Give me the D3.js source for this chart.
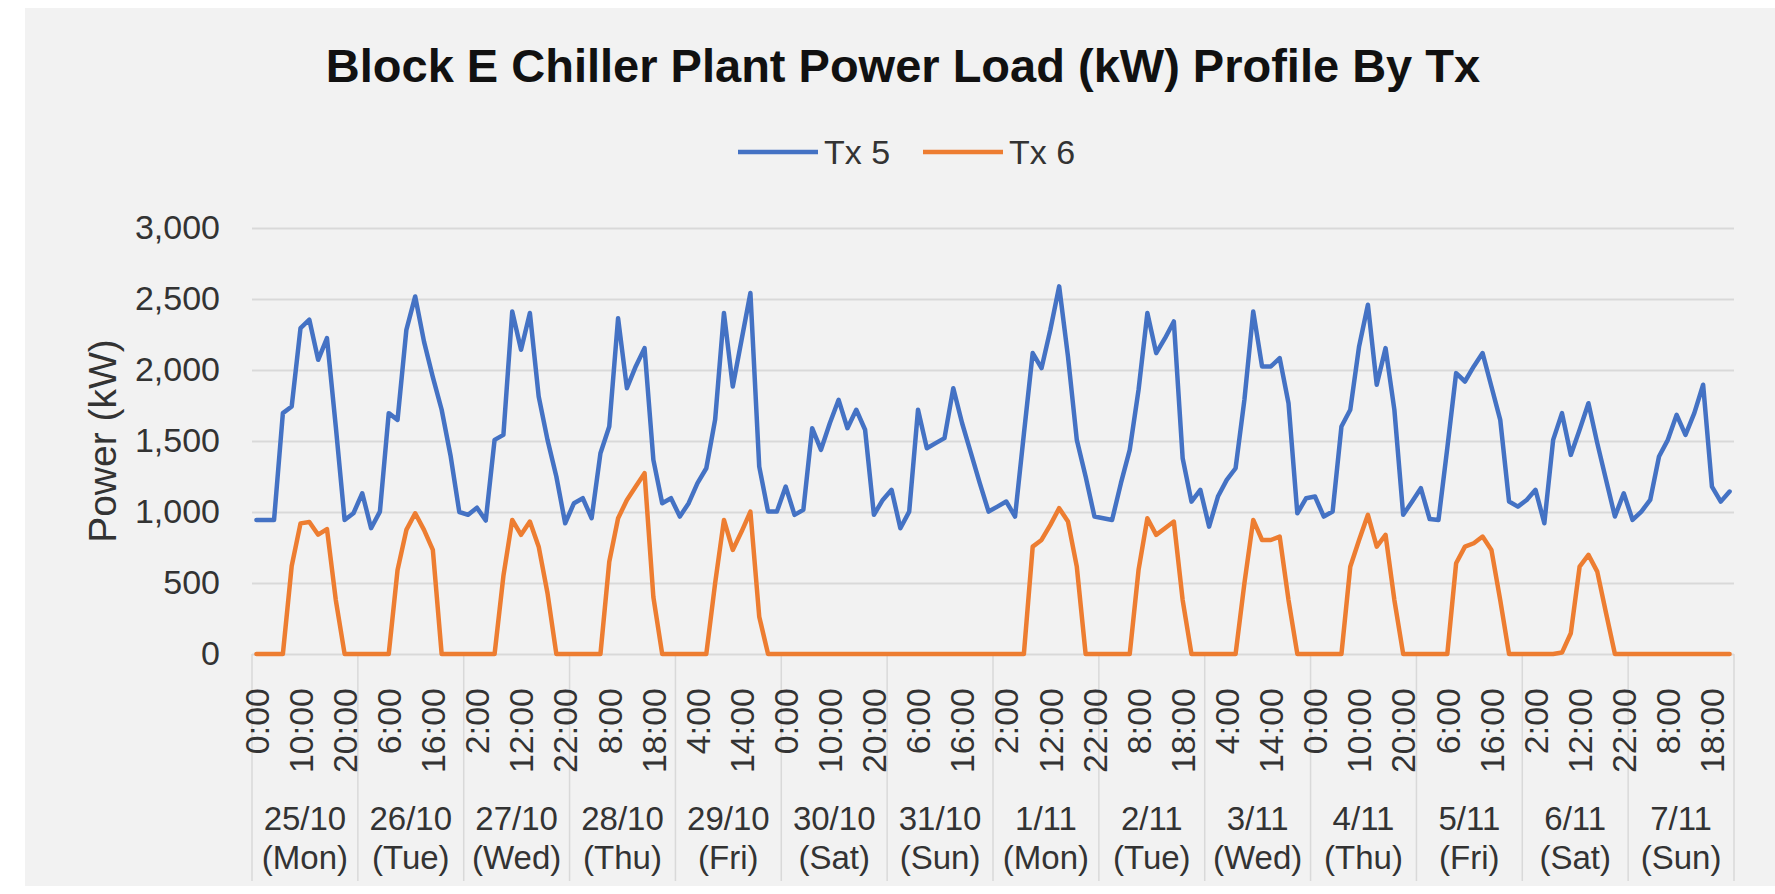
<!DOCTYPE html>
<html>
<head>
<meta charset="utf-8">
<script src="https://cdn.jsdelivr.net/npm/d3@7/dist/d3.min.js"></script>
<style>
body { margin: 0; background: #ffffff; }
svg { display: block; font-family: "Liberation Sans", Arial, sans-serif; }
</style>
</head>
<body>
<svg id="chart"></svg>
<script>
// one label per day (two lines) and the 2-hourly slots of a day
var dates = ["25/10", "26/10", "27/10", "28/10", "29/10", "30/10", "31/10",
             "1/11", "2/11", "3/11", "4/11", "5/11", "6/11", "7/11"];
var weekdays = ["(Mon)", "(Tue)", "(Wed)", "(Thu)", "(Fri)", "(Sat)", "(Sun)",
                "(Mon)", "(Tue)", "(Wed)", "(Thu)", "(Fri)", "(Sat)", "(Sun)"];
var hours = ["0:00", "2:00", "4:00", "6:00", "8:00", "10:00",
             "12:00", "14:00", "16:00", "18:00", "20:00", "22:00"];

// Tx 5, kW, 12 readings per day
var tx5 = [
  944, 944, 944, 1696, 1743, 2295, 2354, 2072, 2224, 1600, 944, 991,
  1132, 886, 1003, 1696, 1649, 2283, 2518, 2200, 1950, 1720, 1400, 1000,
  980, 1030, 940, 1508, 1543, 2412, 2142, 2401, 1813, 1508, 1250, 921,
  1062, 1097, 956, 1414, 1602, 2365, 1872, 2025, 2154, 1367, 1062, 1097,
  968, 1062, 1203, 1308, 1650, 2401, 1884, 2213, 2542, 1320, 1003, 1003,
  1179, 980, 1015, 1590, 1438, 1625, 1790, 1590, 1720, 1579, 980, 1085,
  1156, 886, 1003, 1720, 1449, 1485, 1520, 1872, 1625, 1414, 1203, 1003,
  1038, 1074, 968, 1550, 2119, 2013, 2283, 2589, 2095, 1508, 1250, 968,
  956, 944, 1203, 1438, 1860, 2401, 2119, 2224, 2342, 1379, 1073, 1156,
  897, 1109, 1226, 1308, 1790, 2412, 2025, 2025, 2084, 1766, 991, 1097,
  1109, 968, 1003, 1602, 1720, 2166, 2459, 1896, 2154, 1720, 980, 1073,
  1168, 950, 944, 1450, 1978, 1919, 2025, 2119, 1884, 1649, 1074, 1038,
  1085, 1156, 921, 1508, 1696, 1402, 1579, 1766, 1485, 1226, 968, 1132,
  944, 1003, 1085, 1391, 1508, 1684, 1543, 1696, 1896, 1179, 1073, 1144
];

// Tx 6, kW
var tx6 = [
  0, 0, 0, 0, 620, 920, 930, 840, 880, 380, 0, 0,
  0, 0, 0, 0, 592, 874, 991, 874, 733, 0, 0, 0,
  0, 0, 0, 0, 550, 944, 839, 933, 756, 428, 0, 0,
  0, 0, 0, 0, 650, 956, 1085, 1179, 1273, 400, 0, 0,
  0, 0, 0, 0, 498, 944, 733, 862, 1003, 263, 0, 0,
  0, 0, 0, 0, 0, 0, 0, 0, 0, 0, 0, 0,
  0, 0, 0, 0, 0, 0, 0, 0, 0, 0, 0, 0,
  0, 0, 0, 0, 756, 803, 909, 1027, 933, 615, 0, 0,
  0, 0, 0, 0, 592, 956, 839, 886, 933, 380, 0, 0,
  0, 0, 0, 0, 498, 944, 803, 803, 827, 380, 0, 0,
  0, 0, 0, 0, 615, 803, 980, 756, 839, 380, 0, 0,
  0, 0, 0, 0, 639, 756, 780, 827, 733, 380, 0, 0,
  0, 0, 0, 0, 10, 146, 615, 698, 580, 287, 0, 0,
  0, 0, 0, 0, 0, 0, 0, 0, 0, 0, 0, 0
];

var yTicks = [0, 500, 1000, 1500, 2000, 2500, 3000];
var seriesNames = ["Tx 5", "Tx 6"];
var seriesColors = ["#4472C4", "#ED7D31"];

var width = 1775;
var height = 894;
var plotLeft = 252, plotRight = 1734, plotTop = 228, plotBottom = 654;
var textColor = "#333333";

document.addEventListener("DOMContentLoaded", function () {
    draw();
});

function draw() {
    var svg = d3.select("#chart")
        .attr("width", width)
        .attr("height", height);

    // chart area background
    svg.append("rect")
        .attr("x", 25).attr("y", 8)
        .attr("width", width - 25).attr("height", 878)
        .attr("fill", "#F2F2F2");

    var n = tx5.length;
    var x = d3.scaleBand().domain(d3.range(n)).range([plotLeft, plotRight]);
    var xDay = d3.scaleBand().domain(d3.range(dates.length)).range([plotLeft, plotRight]);
    var y = d3.scaleLinear().domain([0, 3000]).range([plotBottom, plotTop]);

    function px(i) { return x(i) + x.bandwidth() / 2; }

    // y axis + gridlines
    var yAxis = svg.append("g")
        .attr("transform", "translate(" + plotLeft + ",0)")
        .call(d3.axisLeft(y)
            .tickValues(yTicks)
            .tickSize(-(plotRight - plotLeft))
            .tickPadding(32)
            .tickFormat(d3.format(",")));
    yAxis.select(".domain").remove();
    yAxis.selectAll(".tick line")
        .attr("stroke", "#D9D9D9")
        .attr("stroke-width", 2);
    yAxis.selectAll(".tick text")
        .attr("fill", textColor)
        .style("font-size", "34px")
        .style("font-family", "'Liberation Sans', Arial, sans-serif");

    // day separators under the axis
    var seps = d3.range(dates.length + 1);
    svg.selectAll(".sep")
        .data(seps)
        .enter()
        .append("line")
        .attr("class", "sep")
        .attr("x1", function (d) { return d < dates.length ? xDay(d) : plotRight; })
        .attr("x2", function (d) { return d < dates.length ? xDay(d) : plotRight; })
        .attr("y1", plotBottom)
        .attr("y2", 881)
        .attr("stroke", "#D9D9D9")
        .attr("stroke-width", 1.5);

    // hour labels, every 5th reading
    var hourIdx = d3.range(n).filter(function (i) { return i % 5 == 0; });
    svg.selectAll(".hour")
        .data(hourIdx)
        .enter()
        .append("text")
        .attr("class", "hour")
        .attr("transform", function (i) { return "translate(" + px(i) + ",688) rotate(-90)"; })
        .attr("dy", "0.36em")
        .attr("text-anchor", "end")
        .attr("fill", textColor)
        .style("font-size", "34px")
        .text(function (i) { return hours[i % hours.length]; });

    // date labels
    var dayG = svg.selectAll(".day")
        .data(dates)
        .enter()
        .append("text")
        .attr("class", "day")
        .attr("text-anchor", "middle")
        .attr("fill", textColor)
        .style("font-size", "33px");
    dayG.append("tspan")
        .attr("x", function (d, i) { return xDay(i) + xDay.bandwidth() / 2; })
        .attr("y", 830)
        .text(function (d) { return d; });
    dayG.append("tspan")
        .attr("x", function (d, i) { return xDay(i) + xDay.bandwidth() / 2; })
        .attr("y", 869)
        .text(function (d, i) { return weekdays[i]; });

    // lines
    var line = d3.line()
        .x(function (d, i) { return px(i); })
        .y(function (d) { return y(d); });

    [tx5, tx6].forEach(function (s, k) {
        svg.append("path")
            .datum(s)
            .attr("d", line)
            .attr("fill", "none")
            .attr("stroke", seriesColors[k])
            .attr("stroke-width", 4.5)
            .attr("stroke-linejoin", "round")
            .attr("stroke-linecap", "round");
    });

    // y axis title
    svg.append("text")
        .attr("transform", "translate(102," + ((plotTop + plotBottom) / 2) + ") rotate(-90)")
        .attr("dy", "0.36em")
        .attr("text-anchor", "middle")
        .attr("fill", textColor)
        .style("font-size", "39px")
        .text("Power (kW)");

    // title
    svg.append("text")
        .attr("x", 903)
        .attr("y", 82)
        .attr("text-anchor", "middle")
        .attr("fill", "#111111")
        .style("font-size", "47px")
        .style("font-weight", "bold")
        .text("Block E Chiller Plant Power Load (kW) Profile By Tx");

    // legend
    var legX = [738, 923];
    seriesNames.forEach(function (name, k) {
        svg.append("line")
            .attr("x1", legX[k]).attr("x2", legX[k] + 80)
            .attr("y1", 152).attr("y2", 152)
            .attr("stroke", seriesColors[k])
            .attr("stroke-width", 4.5);
        svg.append("text")
            .attr("x", legX[k] + 86)
            .attr("y", 164)
            .attr("fill", textColor)
            .style("font-size", "34px")
            .text(name);
    });
}
</script>
</body>
</html>
